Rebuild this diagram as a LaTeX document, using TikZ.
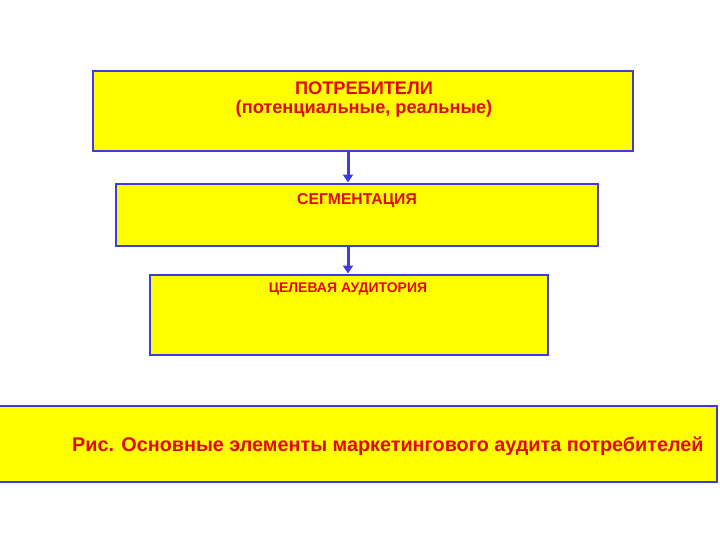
\documentclass[tikz,border=0pt]{standalone}
\usepackage{fontspec}
\setmainfont{Liberation Sans}
\usetikzlibrary{arrows.meta}
\definecolor{boxfill}{RGB}{255,255,0}
\definecolor{boxline}{RGB}{60,60,225}
\definecolor{txtred}{RGB}{225,10,10}
\tikzset{
  panel/.style={draw=boxline, fill=boxfill, line width=2.9pt, rectangle, inner sep=0pt},
  lbl/.style={text=txtred, font=\bfseries, inner sep=0pt, anchor=base},
  link/.style={draw=boxline, line width=3pt, -{Triangle[length=8pt,width=10pt]}}
}
\begin{document}
\begin{tikzpicture}[x=1pt,y=1pt]
\useasboundingbox (0,0) rectangle (720,540);
\node[panel, minimum width=540pt, minimum height=80pt] (b1) at (363,429) {};
\node[panel, minimum width=482pt, minimum height=62pt] (b2) at (357,325) {};
\node[panel, minimum width=398pt, minimum height=80pt] (b3) at (349,225) {};
\node[panel, minimum width=718pt, minimum height=76pt] (b4) at (358,96) {};
\node[lbl, font=\bfseries\fontsize{18.2}{20}\selectfont] (t1) at (364,445.5) {ПОТРЕБИТЕЛИ};
\node[lbl, font=\bfseries\fontsize{18.2}{20}\selectfont] (t1b) at (364,426) {(потенциальные, реальные)};
\node[lbl, font=\bfseries\fontsize{15.7}{18}\selectfont] (t2) at (357,335) {СЕГМЕНТАЦИЯ};
\node[lbl, font=\bfseries\fontsize{14}{16}\selectfont] (t3) at (348,247) {ЦЕЛЕВАЯ АУДИТОРИЯ};
\node[lbl, anchor=base west, font=\bfseries\fontsize{19.8}{22}\selectfont] (t4) at (72,88.5) {Рис. Основные элементы маркетингового аудита потребителей};
\draw[link] (b1.south -| 348,0) -- (b2.north -| 348,0);
\draw[link] (b2.south -| 348,0) -- (b3.north -| 348,0);
\end{tikzpicture}
\end{document}
